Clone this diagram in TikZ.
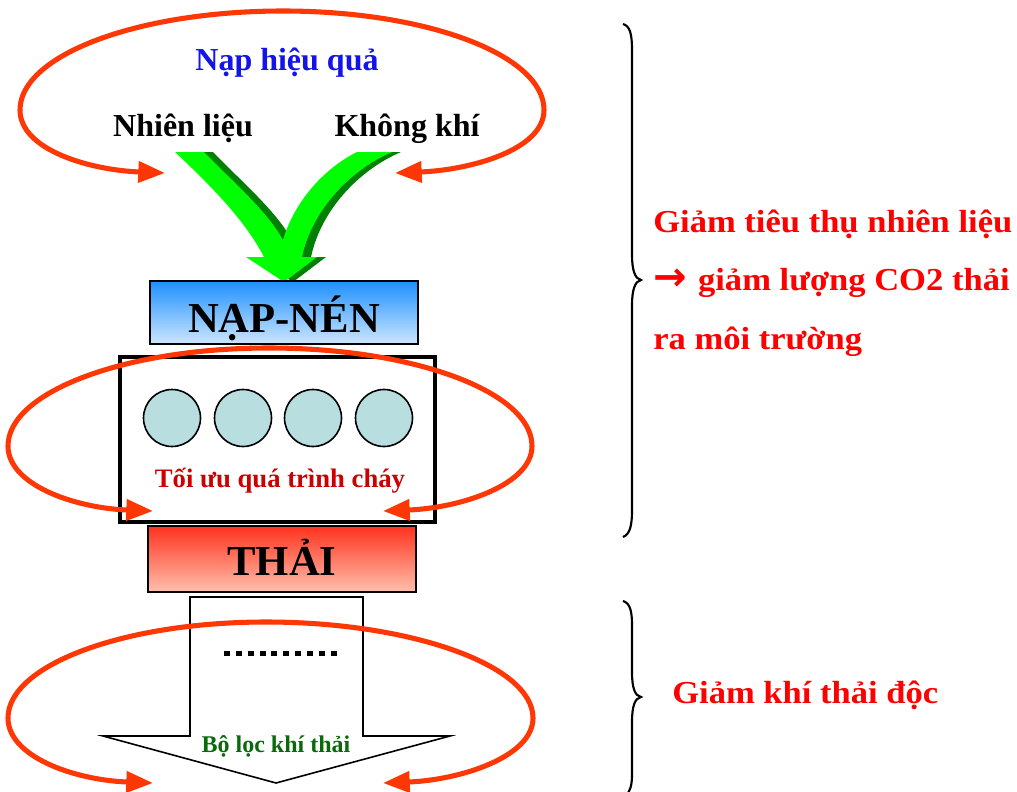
\documentclass[tikz,border=0pt]{standalone}
\usepackage{fontspec}
\setmainfont{Liberation Serif}
\newfontfamily\widefont{Liberation Serif}[FakeStretch=1.08]
\newfontfamily\symfont{DejaVu Sans}
\usetikzlibrary{arrows.meta}
\definecolor{loopred}{RGB}{255,55,5}
\definecolor{napblue}{RGB}{20,20,230}
\definecolor{brightgreen}{RGB}{0,255,0}
\definecolor{shadegreen}{RGB}{0,128,0}
\definecolor{burnred}{RGB}{204,0,0}
\definecolor{filtergreen}{RGB}{10,105,10}
\definecolor{cylfill}{RGB}{184,222,224}
\definecolor{blueTop}{RGB}{30,144,255}
\definecolor{blueBot}{RGB}{204,230,255}
\definecolor{redTop}{RGB}{255,50,30}
\definecolor{redBot}{RGB}{255,192,172}
\begin{document}
\begin{tikzpicture}[x=0.75pt,y=0.75pt,
  loopline/.style={draw=loopred, line width=3.8pt,
    {Triangle[length=20pt,width=15.5pt]}-{Triangle[length=20pt,width=15.5pt]}},
  lbl/.style={inner sep=0pt, anchor=base},
  gradbox/.style={draw=black, line width=1.5pt, rectangle, inner sep=0pt,
    minimum width=201pt},
  cyl/.style={circle, draw=black, line width=1.2pt, fill=cylfill,
    minimum size=42.75pt, inner sep=0pt},
  bracestyle/.style={draw=black, line width=1.6pt},
  righttext/.style={inner sep=0pt, anchor=base west, text=red,
    font=\widefont\bfseries\fontsize{24pt}{28pt}\selectfont},
]
\useasboundingbox (0,0) rectangle (1017,-792);

% ---- green V arrow ----
\def\vshape{(175,-152) -- (204,-152) .. controls (236,-185) and (266,-210) .. (283,-240)
  .. controls (295,-200) and (325,-168) .. (357,-152) -- (392,-152)
  .. controls (350,-170) and (312,-210) .. (302,-257) -- (317,-257) -- (284,-282)
  -- (246,-257) -- (264,-257) .. controls (245,-220) and (210,-185) .. (175,-152) -- cycle}
\fill[shadegreen, xshift=6.75pt] \vshape;
\fill[brightgreen] \vshape;

% ---- boxes ----
\node[gradbox, minimum height=47.25pt, top color=blueTop, bottom color=blueBot]
  (napnenbox) at (284,-312.5) {};
\node[lbl, font=\bfseries\fontsize{32pt}{36pt}\selectfont] (napnen) at (284,-332) {NẠP-NÉN};

\node[draw=black, line width=3pt, fill=white, rectangle, inner sep=0pt,
  minimum width=236.25pt, minimum height=123.75pt] (engine) at (277.5,-439.5) {};
\node[cyl] (c1) at (172,-418) {};
\node[cyl] (c2) at (243,-418) {};
\node[cyl] (c3) at (313,-418) {};
\node[cyl] (c4) at (384,-418) {};
\node[lbl, text=burnred, font=\bfseries\fontsize{20pt}{24pt}\selectfont] (toiuu) at (280,-487) {Tối ưu quá trình cháy};

\node[gradbox, minimum height=49.5pt, top color=redTop, bottom color=redBot]
  (thaibox) at (282,-559) {};
\node[lbl, font=\bfseries\fontsize{32pt}{36pt}\selectfont] (thai) at (282,-575) {THẢI};

% ---- filter block arrow ----
\draw[line width=1.2pt, fill=white] (190,-597) -- (363,-597) -- (363,-736) -- (450,-736)
  -- (276,-783) -- (103,-736) -- (190,-736) -- cycle;
\coordinate (dotA) at (224,-653);
\coordinate (dotB) at (337,-653);
\draw[line width=3.75pt, dash pattern=on 4.5pt off 4.4pt] (dotA) -- (dotB);
\node[lbl, text=filtergreen, font=\bfseries\fontsize{18pt}{22pt}\selectfont] (boloc) at (276,-752) {Bộ lọc khí thải};

% ---- top texts ----
\node[lbl, text=napblue, font=\bfseries\fontsize{24pt}{28pt}\selectfont] (nap) at (287,-71) {Nạp hiệu quả};
\node[lbl, font=\bfseries\fontsize{24pt}{28pt}\selectfont] (fuel) at (183,-137) {Nhiên liệu};
\node[lbl, font=\bfseries\fontsize{24pt}{28pt}\selectfont] (air) at (407,-137) {Không khí};

% ---- loops ----
\coordinate (L1) at (165,-173); \coordinate (R1) at (395,-173);
\draw[loopline] (L1) .. controls (90,-170) and (20,-150) .. (20,-110)
  .. controls (20,-55) and (138,-11) .. (283,-11)
  .. controls (427,-11) and (544,-55) .. (544,-110)
  .. controls (544,-150) and (470,-170) .. (R1);

\coordinate (L2) at (153,-511); \coordinate (R2) at (383,-511);
\draw[loopline] (L2) .. controls (75,-508) and (8,-485) .. (8,-446)
  .. controls (8,-392) and (125,-348) .. (269,-348)
  .. controls (414,-348) and (532,-392) .. (532,-446)
  .. controls (532,-485) and (460,-508) .. (R2);

\coordinate (L3) at (153,-783); \coordinate (R3) at (383,-783);
\draw[loopline] (L3) .. controls (75,-780) and (8,-757) .. (8,-718)
  .. controls (8,-665) and (124,-622) .. (266,-622)
  .. controls (410,-622) and (533,-665) .. (533,-718)
  .. controls (533,-757) and (460,-780) .. (R3);

% ---- braces ----
\draw[bracestyle] (623,-24) .. controls (630,-26) and (632,-34) .. (632,-50) -- (632,-255)
  .. controls (632,-270) and (635,-279) .. (641,-280)
  .. controls (635,-281) and (632,-290) .. (632,-305) -- (632,-510)
  .. controls (632,-526) and (630,-534) .. (623,-537);
\draw[bracestyle] (623,-601) .. controls (630,-603) and (632,-611) .. (632,-625) -- (632,-672)
  .. controls (632,-688) and (635,-696) .. (641,-697)
  .. controls (635,-698) and (632,-706) .. (632,-722) -- (632,-775)
  .. controls (632,-785) and (630,-792) .. (626,-795);

% ---- right texts ----
\node[righttext] (t1) at (653,-232) {Giảm tiêu thụ nhiên liệu};
\node[righttext] (t2) at (653,-290) {{\symfont\bfseries\fontsize{30pt}{30pt}\selectfont →}\hspace{2pt} giảm lượng CO2 thải};
\node[righttext] (t3) at (653,-349) {ra môi trường};
\node[righttext] (t4) at (672,-703) {Giảm khí thải độc};
\end{tikzpicture}
\end{document}
